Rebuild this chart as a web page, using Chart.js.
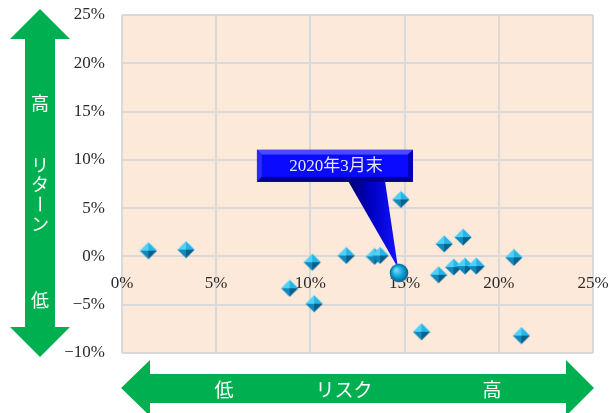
<!DOCTYPE html>
<html>
<head>
<meta charset="utf-8">
<script src="https://cdn.jsdelivr.net/npm/chart.js@4"></script>
<style>
  html, body { margin: 0; padding: 0; background: #ffffff; }
  #wrap { width: 609px; height: 413px; position: relative; }
</style>
</head>
<body>
<div id="wrap"><canvas id="c" width="609" height="413"></canvas></div>
<script>
// Risk (x, %) and return (y, %) of each fund
const riskPct   = [1.4, 3.4, 8.9, 10.1, 10.2, 11.9, 13.4, 13.7, 14.8, 15.9, 16.8, 17.1, 17.6, 18.1, 18.2, 18.8, 20.8, 21.2];
const returnPct = [0.6, 0.7, -3.3, -0.6, -4.9, 0.1, 0.0, 0.1, 5.9, -7.8, -1.9, 1.3, -1.1, 2.0, -1.0, -1.0, -0.1, -8.2];

// Highlighted fund
const latestRisk   = [14.7];
const latestReturn = [-1.7];
const latestLabel  = '2020年3月末';

// Axis ranges / tick steps
const xTicks = [0, 5, 10, 15, 20, 25];
const yTicks = [-10, -5, 0, 5, 10, 15, 20, 25];

// Arrow captions
const returnHigh = '高';
const returnWord = ['リ', 'タ', 'ー', 'ン'];
const returnLow  = '低';
const riskLow  = '低';
const riskWord = 'リスク';
const riskHigh = '高';

const GREEN = '#00B050';
const TICK_FONT = "'Liberation Serif', 'DejaVu Serif', serif";
const JP_FONT = "'Noto Sans CJK JP', 'Noto Sans', sans-serif";

function pctLabel(v) {
  return (v < 0 ? '\u2212' + Math.abs(v) : String(v)) + '%';
}

// Faceted diamond marker
function makeDiamond() {
  const s = 18, c = s / 2, r = 8.6;
  const cv = document.createElement('canvas');
  cv.width = s; cv.height = s;
  const g = cv.getContext('2d');
  const T = [c, c - r], R = [c + r, c], B = [c, c + r], L = [c - r, c], C = [c, c];
  function tri(a, b, col) {
    g.beginPath(); g.moveTo(a[0], a[1]); g.lineTo(b[0], b[1]); g.lineTo(C[0], C[1]); g.closePath();
    g.fillStyle = col; g.fill();
  }
  tri(L, T, '#4fd0f6');
  tri(T, R, '#22b6ea');
  tri(R, B, '#075f8c');
  tri(B, L, '#0f88bb');
  return cv;
}

// Shaded sphere marker
function makeSphere() {
  const s = 20, c = s / 2, r = 9.3;
  const cv = document.createElement('canvas');
  cv.width = s; cv.height = s;
  const g = cv.getContext('2d');
  const grad = g.createRadialGradient(c - 3, c - 3, 1, c, c, r);
  grad.addColorStop(0, '#6fd8f8');
  grad.addColorStop(0.5, '#14a6dc');
  grad.addColorStop(1, '#06618f');
  g.beginPath(); g.arc(c, c, r, 0, Math.PI * 2);
  g.fillStyle = grad; g.fill();
  return cv;
}

const plotBackground = {
  id: 'plotBackground',
  beforeDraw(chart) {
    const { ctx, chartArea: a } = chart;
    ctx.save();
    ctx.fillStyle = '#FDE9DA';
    ctx.fillRect(a.left, a.top, a.right - a.left, a.bottom - a.top);
    ctx.restore();
  }
};

// Callout box pointing at the highlighted fund
const callout = {
  id: 'callout',
  beforeDatasetsDraw(chart) {
    const pt = chart.getDatasetMeta(1).data[0];
    if (!pt) return;
    const ctx = chart.ctx;
    const px = pt.x, py = pt.y;
    const bx = px - 142, by = py - 123, bw = 156, bh = 32, bev = 5;
    ctx.save();
    // pointer
    const pg = ctx.createLinearGradient(bx + 90, 0, px, 0);
    pg.addColorStop(0, '#000070');
    pg.addColorStop(0.5, '#0000c8');
    pg.addColorStop(1, '#1414ff');
    ctx.beginPath();
    ctx.moveTo(bx + 91, by + bh - 1);
    ctx.lineTo(bx + 128, by + bh - 1);
    ctx.lineTo(px - 1, py - 5);
    ctx.closePath();
    ctx.fillStyle = pg; ctx.fill();
    // bevelled box
    ctx.fillStyle = '#0000f0';
    ctx.fillRect(bx, by, bw, bh);
    const quad = (pts, col) => {
      ctx.beginPath(); ctx.moveTo(pts[0][0], pts[0][1]);
      for (let i = 1; i < pts.length; i++) ctx.lineTo(pts[i][0], pts[i][1]);
      ctx.closePath(); ctx.fillStyle = col; ctx.fill();
    };
    const x0 = bx, y0 = by, x1 = bx + bw, y1 = by + bh;
    quad([[x0, y0], [x1, y0], [x1 - bev, y0 + bev], [x0 + bev, y0 + bev]], '#4a4aff');
    quad([[x0, y0], [x0 + bev, y0 + bev], [x0 + bev, y1 - bev], [x0, y1]], '#2a2aff');
    quad([[x1, y0], [x1, y1], [x1 - bev, y1 - bev], [x1 - bev, y0 + bev]], '#0000b4');
    quad([[x0, y1], [x0 + bev, y1 - bev], [x1 - bev, y1 - bev], [x1, y1]], '#00008e');
    ctx.fillStyle = '#0a0aff';
    ctx.fillRect(x0 + bev, y0 + bev, bw - 2 * bev, bh - 2 * bev);
    // label
    ctx.fillStyle = '#e4e4ff';
    ctx.font = "17px " + "'Liberation Serif', 'Noto Sans CJK JP', serif";
    ctx.textAlign = 'center';
    ctx.textBaseline = 'middle';
    ctx.fillText(latestLabel, bx + bw / 2 + 1, by + bh / 2 + 1);
    ctx.restore();
  }
};

// Green double arrows with captions for the two axes
const axisArrows = {
  id: 'axisArrows',
  afterDraw(chart) {
    const ctx = chart.ctx;
    ctx.save();
    ctx.fillStyle = GREEN;
    // vertical (return)
    ctx.beginPath();
    ctx.moveTo(40, 9);
    ctx.lineTo(70, 39); ctx.lineTo(55, 39); ctx.lineTo(55, 327); ctx.lineTo(70, 327);
    ctx.lineTo(40, 357);
    ctx.lineTo(10, 327); ctx.lineTo(25, 327); ctx.lineTo(25, 39); ctx.lineTo(10, 39);
    ctx.closePath(); ctx.fill();
    // horizontal (risk)
    ctx.beginPath();
    ctx.moveTo(121, 388);
    ctx.lineTo(150, 360); ctx.lineTo(150, 374); ctx.lineTo(566, 374); ctx.lineTo(566, 360);
    ctx.lineTo(594, 388);
    ctx.lineTo(566, 416); ctx.lineTo(566, 403); ctx.lineTo(150, 403); ctx.lineTo(150, 416);
    ctx.closePath(); ctx.fill();

    ctx.fillStyle = '#ffffff';
    ctx.textAlign = 'center';
    ctx.textBaseline = 'middle';
    ctx.font = '18px ' + JP_FONT;
    ctx.fillText(returnHigh, 40, 103);
    const ys = [165, 184, 204, 224];
    returnWord.forEach((ch, i) => {
      if (ch === 'ー') {
        ctx.save();
        ctx.translate(40, ys[i]);
        ctx.rotate(Math.PI / 2);
        ctx.fillText(ch, 0, 0);
        ctx.restore();
      } else {
        ctx.fillText(ch, 40, ys[i]);
      }
    });
    ctx.fillText(returnLow, 40, 300);
    ctx.font = '19px ' + JP_FONT;
    ctx.fillText(riskLow, 224, 390);
    ctx.fillText(riskWord, 344, 390);
    ctx.fillText(riskHigh, 492, 390);
    ctx.restore();
  }
};

const diamond = makeDiamond();
const sphere = makeSphere();

new Chart(document.getElementById('c'), {
  type: 'scatter',
  data: {
    datasets: [
      {
        label: 'funds',
        data: riskPct.map((x, i) => ({ x: x, y: returnPct[i] })),
        pointStyle: diamond,
        pointRadius: 9,
        pointHoverRadius: 9
      },
      {
        label: latestLabel,
        data: latestRisk.map((x, i) => ({ x: x, y: latestReturn[i] })),
        pointStyle: sphere,
        pointRadius: 10,
        pointHoverRadius: 10
      }
    ]
  },
  options: {
    responsive: false,
    animation: false,
    devicePixelRatio: 1,
    layout: { padding: { left: 0, top: 15, right: 16, bottom: 60 } },
    plugins: { legend: { display: false }, tooltip: { enabled: false } },
    scales: {
      x: {
        type: 'linear',
        position: { y: 0 },
        min: xTicks[0], max: xTicks[xTicks.length - 1],
        afterBuildTicks(scale) { scale.ticks = xTicks.map(v => ({ value: v })); },
        afterFit(scale) { scale.paddingLeft = 0; scale.paddingRight = 0; },
        border: { display: false },
        grid: { color: '#d9d9d9', lineWidth: 2, drawTicks: false },
        ticks: {
          padding: 17,
          maxRotation: 0,
          color: '#2a2a2a',
          font: { family: TICK_FONT, size: 17 },
          callback: v => pctLabel(v)
        }
      },
      y: {
        type: 'linear',
        min: yTicks[0], max: yTicks[yTicks.length - 1],
        afterBuildTicks(scale) { scale.ticks = yTicks.map(v => ({ value: v })); },
        afterFit(scale) { scale.width = 122; scale.paddingTop = 0; scale.paddingBottom = 0; },
        border: { display: false },
        grid: { color: '#d9d9d9', lineWidth: 2, drawTicks: false },
        ticks: {
          padding: 17,
          color: '#2a2a2a',
          font: { family: TICK_FONT, size: 17 },
          callback: v => pctLabel(v)
        }
      }
    }
  },
  plugins: [plotBackground, callout, axisArrows]
});
</script>
</body>
</html>
